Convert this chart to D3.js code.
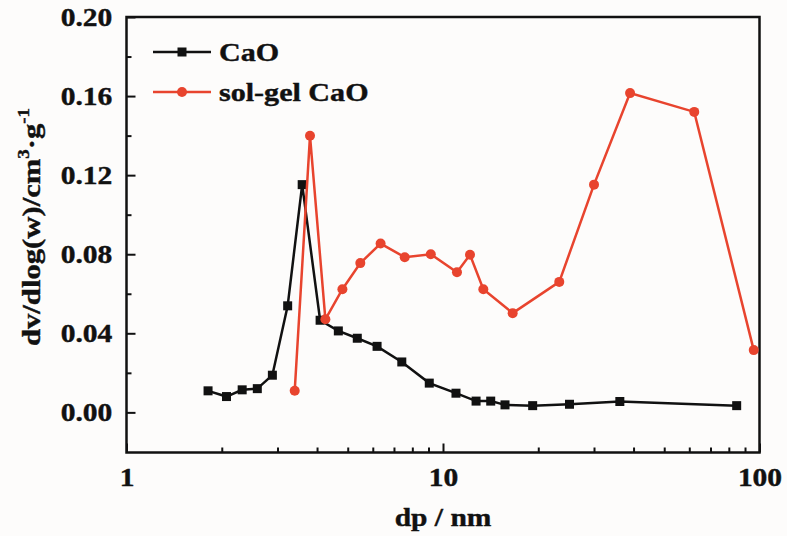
<!DOCTYPE html>
<html>
<head>
<meta charset="utf-8">
<script src="https://cdn.jsdelivr.net/npm/d3@7"></script>
<style>
  body { margin: 0; background: #fdfcfb; }
  text { font-family: "Liberation Serif", "Times New Roman", serif; font-weight: bold; fill: #111; stroke: #111; stroke-width: 0.4; }
</style>
</head>
<body>
<svg id="chart" width="787" height="536"></svg>
<script>
// pore size (nm) and dv/dlog(w) for both samples
const caoX = [1.81, 2.07, 2.32, 2.59, 2.89, 3.23, 3.59, 4.09, 4.67, 5.36, 6.19, 7.41, 9.05, 10.99, 12.72, 14.15, 15.7, 19.2, 25.1, 36.2, 84.7];
const caoY = [0.0109, 0.0080, 0.0114, 0.0120, 0.0188, 0.0539, 0.1152, 0.0466, 0.0412, 0.0375, 0.0334, 0.0255, 0.0148, 0.0097, 0.0057, 0.0057, 0.0038, 0.0034, 0.0041, 0.0055, 0.0034];
const solX = [3.40, 3.80, 4.25, 4.81, 5.48, 6.35, 7.57, 9.15, 11.07, 12.17, 13.41, 16.6, 23.3, 30.0, 39.0, 62.2, 95.9];
const solY = [0.0109, 0.1399, 0.0471, 0.0623, 0.0755, 0.0854, 0.0785, 0.0800, 0.0709, 0.0797, 0.0623, 0.0502, 0.0660, 0.1152, 0.1615, 0.1520, 0.0315];
const xMajor = [1, 10, 100];
const xMinor = [2, 3, 4, 5, 6, 7, 8, 9, 20, 30, 40, 50, 60, 70, 80, 90];
const yMajor = [0.00, 0.04, 0.08, 0.12, 0.16, 0.20];
const yMinor = [0.02, 0.06, 0.10, 0.14, 0.18];

const plotL = 126.5, plotR = 759.5, plotT = 17, plotB = 452.5;
const red = "#e8442e", black = "#111";

const svg = d3.select("#chart");

const x = d3.scaleLog().domain([1, 100]).range([plotL, plotR]);
const y = d3.scaleLinear().domain([-0.0203, 0.20]).range([plotB, plotT]);

// ticks, pointing inward
svg.append("g")
    .attr("transform", `translate(0,${plotB})`)
    .call(d3.axisBottom(x).tickValues(xMinor).tickSize(-5).tickSizeOuter(0).tickFormat(""))
    .call(g => g.select(".domain").remove())
    .call(g => g.selectAll("line").attr("stroke", black).attr("stroke-width", 2));

svg.append("g")
    .attr("transform", `translate(0,${plotB})`)
    .call(d3.axisBottom(x).tickValues(xMajor).tickSize(-9).tickSizeOuter(0).tickPadding(16).tickFormat(d3.format("d")))
    .call(g => g.select(".domain").remove())
    .call(g => g.selectAll("line").attr("stroke", black).attr("stroke-width", 2))
    .call(g => g.selectAll("text").attr("font-size", 25).attr("fill", black)
        .attr("transform", "scale(1.18,1)"));

svg.append("g")
    .attr("transform", `translate(${plotL},0)`)
    .call(d3.axisLeft(y).tickValues(yMinor).tickSize(-5).tickFormat(""))
    .call(g => g.select(".domain").remove())
    .call(g => g.selectAll("line").attr("stroke", black).attr("stroke-width", 2));

svg.append("g")
    .attr("transform", `translate(${plotL},0)`)
    .call(d3.axisLeft(y).tickValues(yMajor).tickSize(-9).tickPadding(12).tickFormat(d3.format(".2f")))
    .call(g => g.select(".domain").remove())
    .call(g => g.selectAll("line").attr("stroke", black).attr("stroke-width", 2))
    .call(g => g.selectAll("text").attr("font-size", 25).attr("fill", black)
        .attr("transform", "scale(1.18,1)"));

// frame
svg.append("rect")
    .attr("x", plotL).attr("y", plotT)
    .attr("width", plotR - plotL).attr("height", plotB - plotT)
    .attr("fill", "none").attr("stroke", black).attr("stroke-width", 2.5);

// series
const line = d3.line().x(d => x(d[0])).y(d => y(d[1]));
const caoData = d3.zip(caoX, caoY);
const solData = d3.zip(solX, solY);

svg.append("path").datum(caoData)
    .attr("d", line).attr("fill", "none").attr("stroke", black).attr("stroke-width", 2.5);
svg.append("g").selectAll("rect").data(caoData).join("rect")
    .attr("x", d => x(d[0]) - 4.5).attr("y", d => y(d[1]) - 4.5)
    .attr("width", 9).attr("height", 9).attr("fill", black);

svg.append("path").datum(solData)
    .attr("d", line).attr("fill", "none").attr("stroke", red).attr("stroke-width", 2.5);
svg.append("g").selectAll("circle").data(solData).join("circle")
    .attr("cx", d => x(d[0])).attr("cy", d => y(d[1])).attr("r", 5).attr("fill", red);

// legend
const legend = svg.append("g");
const items = [["CaO", black, "square"], ["sol-gel CaO", red, "circle"]];
items.forEach(([name, color, shape], i) => {
    const ly = 52 + i * 40;
    legend.append("line").attr("x1", 153).attr("x2", 211).attr("y1", ly).attr("y2", ly)
        .attr("stroke", color).attr("stroke-width", 2.5);
    if (shape === "square") {
        legend.append("rect").attr("x", 182 - 4.5).attr("y", ly - 4.5).attr("width", 9).attr("height", 9).attr("fill", color);
    } else {
        legend.append("circle").attr("cx", 182).attr("cy", ly).attr("r", 5).attr("fill", color);
    }
    legend.append("text").attr("x", 0).attr("y", 0).attr("dy", "0.35em")
        .attr("font-size", 25.5)
        .attr("transform", `translate(219,${ly}) scale(1.18,1)`)
        .text(name);
});

// axis titles
svg.append("text")
    .attr("text-anchor", "middle")
    .attr("font-size", 25)
    .attr("transform", `translate(443,526) scale(1.18,1)`)
    .text("dp / nm");

const yt = svg.append("text")
    .attr("text-anchor", "middle")
    .attr("font-size", 26)
    .attr("transform", `translate(40,227) rotate(-90) scale(1.18,1)`);
yt.append("tspan").text("dv/dlog(w)/cm");
yt.append("tspan").attr("font-size", 16).attr("dy", -11).text("3");
yt.append("tspan").attr("dy", 11).text("·g");
yt.append("tspan").attr("font-size", 16).attr("dy", -11).text("-1");
</script>
</body>
</html>
